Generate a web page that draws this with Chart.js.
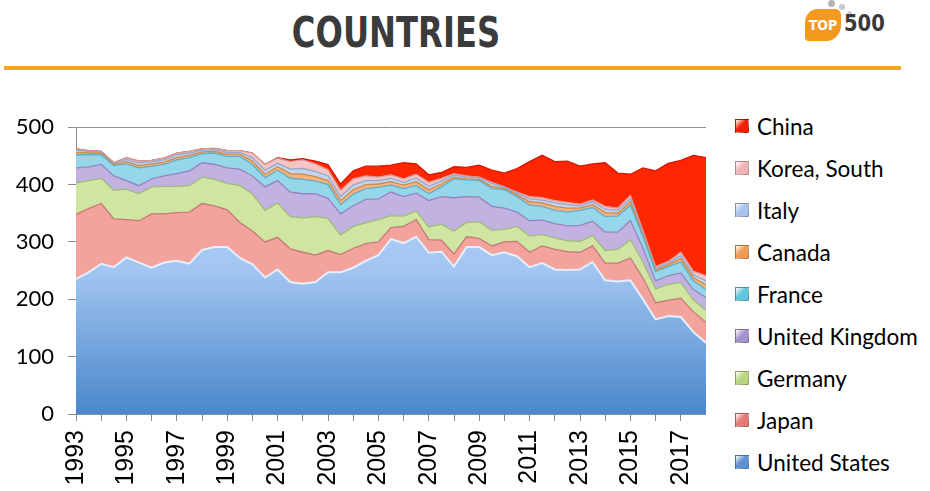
<!DOCTYPE html>
<html><head><meta charset="utf-8">
<script src="https://cdn.jsdelivr.net/npm/chart.js@4"></script>
<style>
html,body{margin:0;padding:0;background:#fff;}
body{width:930px;height:491px;overflow:hidden;position:relative;font-family:Lato,'Noto Sans',sans-serif;}
#title{position:absolute;left:196px;width:400px;top:7px;text-align:center;font-family:'DejaVu Sans',sans-serif;font-weight:bold;font-size:43px;line-height:50px;color:#3b3b3b;transform:scaleX(0.75);transform-origin:200px 25px;}
#rule{position:absolute;left:4px;top:66px;width:897px;height:4px;background:#f2a81e;}
#chartbox{position:absolute;left:0;top:100px;width:706px;height:391px;}
#legend{position:absolute;left:735px;top:105px;}
.item{height:42px;display:flex;align-items:center;font-size:22.5px;color:#000;white-space:nowrap;}
.box{width:14px;height:14px;margin-right:8px;box-sizing:border-box;border:1px solid rgba(0,0,0,0.25);}
#logo{position:absolute;left:798px;top:0;width:100px;height:50px;}
#blob{position:absolute;left:5px;top:9px;width:40px;height:32px;background:#f39a1e;border-radius:14px 6px 16px 4px;color:#fff;font-family:'DejaVu Sans',sans-serif;font-weight:bold;font-size:14px;line-height:32px;text-align:center;transform:scaleX(0.9);}
#five{position:absolute;left:46px;top:9px;font-family:'DejaVu Sans',sans-serif;font-weight:bold;font-size:23px;line-height:28px;color:#3a3a3a;transform:scaleX(0.85);transform-origin:0 0;}
.dot{position:absolute;border-radius:50%;background:#b5b5b5;}
</style>
</head><body>
<div id="title">COUNTRIES</div>
<div id="logo">
  <div class="dot" style="left:30px;top:0px;width:7px;height:7px;"></div>
  <div class="dot" style="left:41px;top:4px;width:6px;height:6px;background:#c8c8c8"></div>
  <div class="dot" style="left:49px;top:11px;width:5px;height:5px;background:#d0d0d0"></div>
  <div id="blob">TOP</div>
  <div id="five">500</div>
</div>
<div id="rule"></div>
<div id="chartbox"><canvas id="c" width="706" height="391"></canvas></div>
<div id="legend"></div>
<script>
const categories = ['1993.06','1993.11','1994.06','1994.11','1995.06','1995.11','1996.06','1996.11','1997.06','1997.11',
 '1998.06','1998.11','1999.06','1999.11','2000.06','2000.11','2001.06','2001.11','2002.06','2002.11',
 '2003.06','2003.11','2004.06','2004.11','2005.06','2005.11','2006.06','2006.11','2007.06','2007.11',
 '2008.06','2008.11','2009.06','2009.11','2010.06','2010.11','2011.06','2011.11','2012.06','2012.11',
 '2013.06','2013.11','2014.06','2014.11','2015.06','2015.11','2016.06','2016.11','2017.06','2017.11','2018.06'];
const tickLabels = ['1993','1995','1997','1999','2001','2003','2005','2007','2009','2011','2013','2015','2017'];
const yTicks = [0,100,200,300,400,500];

const unitedStates = [235,247,262,256,273,264,255,264,267,262,286,291,291,272,261,238,252,230,227,230,247,247,255,267,277,305,298,309,281,283,257,291,291,277,282,275,256,263,252,251,252,265,233,231,233,200,165,171,169,143,124];
const japan = [113,111,105,84,66,73,94,85,84,90,81,72,65,62,58,62,56,58,55,47,38,31,34,30,23,20,29,30,23,20,22,18,15,16,18,26,26,30,35,32,30,28,30,32,39,37,29,27,33,35,36];
const germany = [55,49,44,50,53,47,47,48,46,46,46,46,46,64,65,55,60,56,60,67,56,34,38,36,39,21,18,15,22,28,40,25,29,27,22,26,28,20,20,19,19,18,22,24,32,28,24,28,27,21,21];
const unitedKingdom = [26,24,24,25,15,14,14,18,22,26,25,26,27,29,31,41,39,43,42,40,35,37,36,41,36,41,34,31,46,48,58,45,43,42,37,25,27,25,25,26,28,25,32,30,33,24,14,15,17,18,22];
const france = [23,21,17,18,29,31,22,20,24,23,16,20,20,22,20,16,18,24,25,22,24,16,20,19,20,12,14,13,12,17,33,29,29,31,32,27,27,24,23,24,26,24,27,28,27,20,16,16,19,15,14];
const canada = [4,3,3,2,4,4,4,4,4,4,3,3,4,4,6,6,6,8,9,8,7,7,8,7,6,6,6,7,7,5,3,2,2,4,2,3,6,6,7,7,4,5,7,5,6,4,3,3,6,6,8];
const italy = [4,3,2,2,4,5,4,4,5,4,3,3,3,3,6,7,6,8,10,9,8,7,8,7,6,6,5,6,6,5,4,3,3,5,2,3,5,5,6,6,4,5,6,5,5,3,3,3,5,5,7];
const koreaSouth = [2,1,1,1,3,3,2,3,3,3,2,2,3,3,8,10,9,13,15,13,11,11,11,8,6,6,6,7,7,5,2,2,1,2,1,2,4,4,4,4,3,3,5,4,6,4,3,3,6,6,9];
const china = [0,0,0,0,0,0,0,0,0,0,0,0,0,0,0,0,1,3,2,5,9,11,14,17,19,17,28,18,13,10,12,15,21,21,24,41,61,74,68,72,66,63,76,61,37,109,167,171,160,202,206];

const seriesNames = ['United States','Japan','Germany','United Kingdom','France','Canada','Italy','Korea, South','China'];
const seriesData = [unitedStates,japan,germany,unitedKingdom,france,canada,italy,koreaSouth,china];
const fills = [null,'#f3a29c','#cfe5a1','#c2b2e1','#95d6ea','#f6b27a','#c2d5f1','#f5c4c4','#ff2600'];
const borders = ['#e2f0ff','#c57a78','#a2b97a','#9585b8','#62aec6','#d08a48','#93a8cc','#d79a9a','#d81800'];
const legendColors = ['#5a92d2','#e57a76','#b9d67e','#a393cf','#5fc6df','#f09a52','#a9c3ee','#f0b4b4','#f22000'];

function usGradient(ctx){
  const ch = ctx.chart, a = ch.chartArea;
  if(!a) return '#8fb6e8';
  const g = ch.ctx.createLinearGradient(0,a.top,0,a.bottom);
  g.addColorStop(0,'#c2daf9');
  g.addColorStop(0.5,'#a2c5f1');
  g.addColorStop(1,'#4a87ca');
  return g;
}

const datasets = seriesNames.map((n,k)=>({
  label:n,
  data:seriesData[k],
  backgroundColor: k===0 ? usGradient : fills[k],
  borderColor: borders[k],
  borderWidth: k===0 ? 2 : 1.3,
  fill: k===0 ? 'origin' : '-1',
  pointRadius:0,
  tension:0
}));

new Chart(document.getElementById('c'),{
  type:'line',
  data:{labels:categories,datasets},
  options:{
    responsive:false,animation:false,
    layout:{padding:{top:18,right:0,left:0,bottom:0}},
    plugins:{legend:{display:false},tooltip:{enabled:false}},
    scales:{
      x:{type:'category',offset:false,
        grid:{drawOnChartArea:false,drawTicks:true,tickLength:7,color:(c)=> (c.index%2===0)?'#8c8c8c':'rgba(0,0,0,0)'},
        border:{color:'#8c8c8c'},
        ticks:{autoSkip:false,maxRotation:90,minRotation:90,padding:9,color:'#000',
          font:{family:'Liberation Sans',size:25},
          callback:(v,i)=> (i%4===0)? tickLabels[i/4] : ''},
        afterFit:(s)=>{s.height=77;s.paddingRight=0;s.paddingLeft=0;}
      },
      y:{stacked:true,min:yTicks[0],max:yTicks[yTicks.length-1],
        afterBuildTicks:(s)=>{s.ticks=yTicks.map(v=>({value:v}));},
        grid:{color:'#8c8c8c',tickLength:8},
        border:{color:'#8c8c8c'},
        ticks:{padding:14,color:'#000',font:{family:'Lato',size:22}},
        afterFit:(s)=>{s.width=76;}
      }
    }
  }
});

const leg = document.getElementById('legend');
for(let k=seriesNames.length-1;k>=0;k--){
  const it=document.createElement('div');it.className='item';
  const b=document.createElement('div');b.className='box';
  b.style.background='linear-gradient(135deg, #ffffff 0%, '+legendColors[k]+' 45%, '+legendColors[k]+' 100%)';
  const t=document.createElement('span');t.textContent=seriesNames[k];
  it.appendChild(b);it.appendChild(t);leg.appendChild(it);
}
</script>
</body></html>
